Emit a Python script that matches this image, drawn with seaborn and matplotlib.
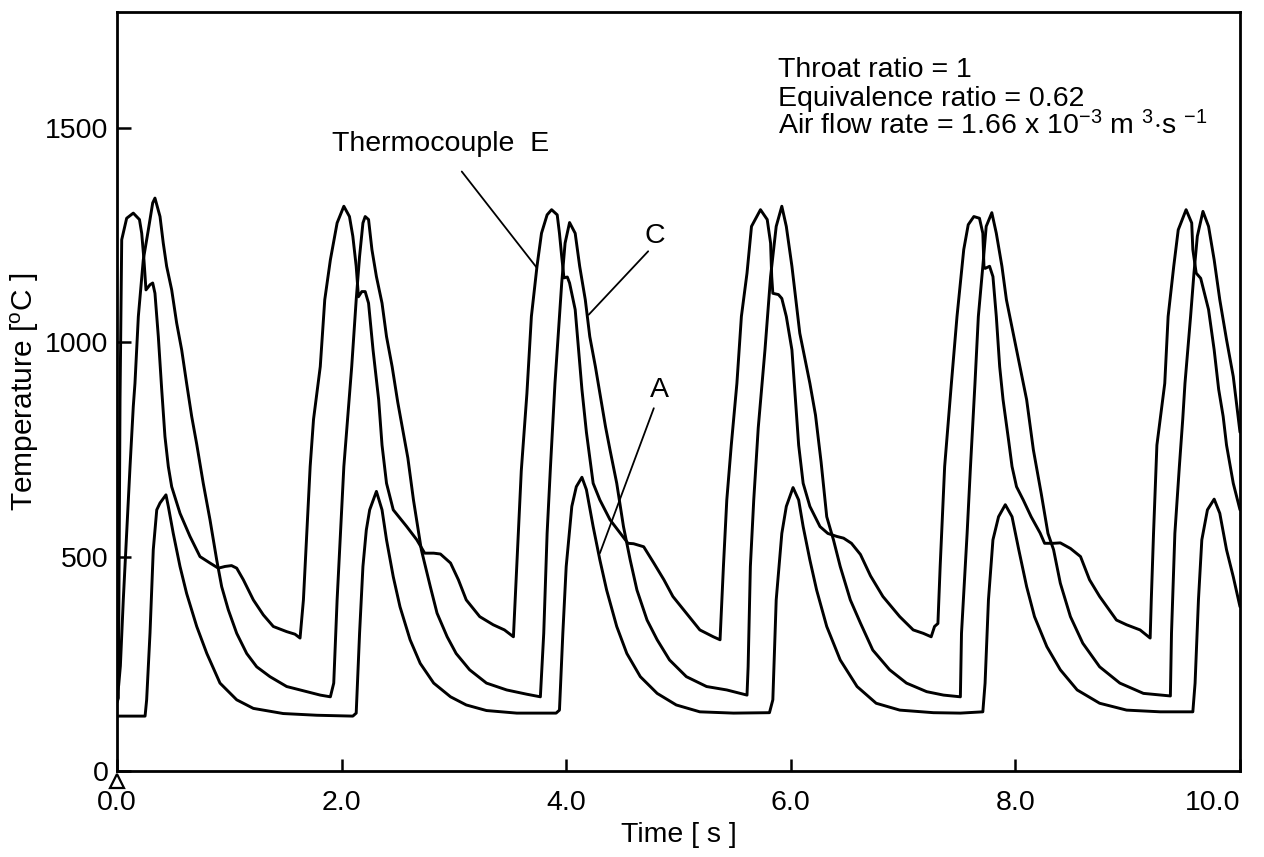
import numpy as np
import pandas as pd
import matplotlib
matplotlib.use("Agg")
import matplotlib.pyplot as plt
import seaborn as sns

# ---------------- data ----------------
e_time = [0.00, 0.012, 0.027, 0.042, 0.086, 0.145, 0.20, 0.22, 0.24, 0.258, 0.294, 0.318, 0.338, 0.368, 0.398, 0.427, 0.457, 0.487, 0.561, 0.65, 0.739, 0.828, 0.902, 0.962, 1.02, 1.066, 1.125, 1.214, 1.303, 1.392, 1.511, 1.585, 1.63,
          1.66, 1.69, 1.72, 1.75, 1.81, 1.85, 1.90, 1.96, 2.02, 2.07, 2.10, 2.13, 2.15, 2.18, 2.21, 2.24, 2.28, 2.33, 2.36, 2.40, 2.46, 2.58, 2.67, 2.74, 2.82, 2.88, 2.97, 3.04, 3.11, 3.23, 3.35, 3.45, 3.53,
          3.56, 3.60, 3.65, 3.69, 3.74, 3.78, 3.83, 3.87, 3.92, 3.94, 3.96, 3.98, 4.01, 4.03, 4.08, 4.11, 4.14, 4.18, 4.24, 4.30, 4.39, 4.48, 4.55, 4.60, 4.69, 4.78, 4.87, 4.95, 5.07, 5.19, 5.31, 5.37,
          5.40, 5.43, 5.47, 5.52, 5.56, 5.61, 5.65, 5.73, 5.79, 5.82, 5.83, 5.84, 5.89, 5.92, 5.96, 6.01, 6.04, 6.07, 6.11, 6.17, 6.26, 6.33, 6.41, 6.47, 6.54, 6.62, 6.71, 6.82, 6.97, 7.09, 7.18, 7.25, 7.28, 7.31,
          7.33, 7.37, 7.43, 7.48, 7.51, 7.54, 7.58, 7.63, 7.68, 7.71, 7.72, 7.73, 7.77, 7.80, 7.83, 7.86, 7.89, 7.94, 7.97, 8.01, 8.07, 8.14, 8.22, 8.26, 8.34, 8.40, 8.49, 8.58, 8.66, 8.75, 8.90, 8.99, 9.11, 9.20,
          9.21, 9.23, 9.26, 9.33, 9.36, 9.41, 9.45, 9.52, 9.57, 9.58, 9.61, 9.65, 9.72, 9.77, 9.81, 9.85, 9.88, 9.94, 10.0]
e_temp = [160, 170, 866, 1239, 1289, 1301, 1286, 1254, 1192, 1122, 1134, 1138, 1114, 1013, 890, 780, 710, 663, 601, 547, 500, 485, 473, 477, 479, 473, 446, 399, 364, 337, 325, 319, 310,
          399, 554, 710, 820, 943, 1099, 1192, 1278, 1317, 1293, 1247, 1177, 1106, 1118, 1118, 1091, 982, 866, 760, 671, 609, 570, 539, 508, 508, 506, 485, 446, 399, 360, 341, 329, 313,
          477, 700, 880, 1060, 1177, 1254, 1297, 1309, 1297, 1254, 1200, 1150, 1152, 1138, 1076, 982, 890, 790, 671, 632, 586, 555, 531, 530, 523, 485, 446, 407, 368, 329, 313, 306,
          477, 632, 760, 904, 1060, 1161, 1270, 1309, 1286, 1231, 1153, 1114, 1111, 1102, 1060, 982, 870, 760, 671, 617, 570, 554, 547, 543, 531, 505, 455, 407, 360, 329, 321, 313, 337, 344,
          477, 710, 904, 1060, 1138, 1216, 1274, 1293, 1289, 1254, 1177, 1172, 1177, 1153, 1060, 943, 866, 770, 710, 663, 632, 593, 555, 531, 531, 532, 519, 500, 446, 407, 352, 341, 329, 310,
          399, 554, 760, 904, 1060, 1177, 1262, 1309, 1278, 1216, 1161, 1149, 1076, 982, 890, 827, 760, 671, 609]

c_time = [0.00, 0.015, 0.03, 0.056, 0.086, 0.116, 0.145, 0.16, 0.19, 0.234, 0.279, 0.318, 0.338, 0.383, 0.412, 0.442, 0.487, 0.531, 0.576, 0.62, 0.665, 0.71, 0.768, 0.828, 0.888, 0.932, 0.991, 1.066, 1.155, 1.244, 1.362, 1.511, 1.69, 1.81, 1.90,
          1.93, 1.96, 1.99, 2.02, 2.05, 2.09, 2.13, 2.16, 2.19, 2.21, 2.24, 2.27, 2.31, 2.36, 2.40, 2.45, 2.50, 2.55, 2.59, 2.64, 2.71, 2.79, 2.85, 2.94, 3.02, 3.14, 3.29, 3.47, 3.65, 3.77,
          3.80, 3.83, 3.86, 3.90, 3.93, 3.96, 3.99, 4.03, 4.08, 4.12, 4.17, 4.21, 4.26, 4.31, 4.35, 4.39, 4.45, 4.51, 4.57, 4.63, 4.72, 4.81, 4.92, 5.07, 5.25, 5.43, 5.61,
          5.62, 5.64, 5.67, 5.71, 5.77, 5.82, 5.87, 5.92, 5.96, 6.01, 6.08, 6.17, 6.22, 6.27, 6.32, 6.38, 6.44, 6.53, 6.62, 6.73, 6.88, 7.03, 7.21, 7.36, 7.51,
          7.52, 7.57, 7.60, 7.64, 7.67, 7.71, 7.74, 7.79, 7.83, 7.88, 7.92, 7.98, 8.04, 8.10, 8.16, 8.23, 8.29, 8.34, 8.40, 8.49, 8.60, 8.75, 8.93, 9.14, 9.38,
          9.39, 9.42, 9.46, 9.49, 9.51, 9.56, 9.59, 9.62, 9.67, 9.72, 9.77, 9.82, 9.88, 9.94, 9.98, 10.0]
c_temp = [180, 200, 245, 399, 554, 710, 850, 904, 1060, 1192, 1262, 1325, 1336, 1293, 1231, 1177, 1122, 1045, 982, 904, 827, 762, 671, 586, 492, 430, 376, 321, 274, 243, 220, 197, 185, 177, 173,
          205, 399, 554, 710, 810, 943, 1099, 1200, 1278, 1293, 1286, 1216, 1153, 1091, 1013, 943, 860, 788, 730, 632, 516, 430, 368, 313, 274, 236, 205, 189, 179, 173,
          321, 554, 710, 904, 1021, 1138, 1231, 1279, 1254, 1177, 1099, 1013, 943, 866, 803, 749, 671, 570, 492, 422, 352, 306, 259, 220, 197, 189, 177,
          243, 477, 632, 800, 982, 1153, 1270, 1317, 1270, 1177, 1021, 904, 830, 720, 593, 539, 477, 399, 345, 282, 236, 205, 185, 177, 173,
          321, 554, 710, 904, 1060, 1177, 1270, 1302, 1254, 1177, 1099, 1021, 943, 866, 749, 647, 554, 516, 438, 360, 298, 243, 205, 181, 175,
          321, 554, 710, 820, 904, 1060, 1161, 1247, 1305, 1270, 1192, 1099, 1006, 920, 834, 790]

a_time = [0.00, 0.25, 0.264, 0.294, 0.323, 0.354, 0.383, 0.436, 0.457, 0.501, 0.561, 0.62, 0.71, 0.80, 0.917, 1.066, 1.214, 1.48, 1.78, 2.10,
          2.13, 2.16, 2.19, 2.22, 2.25, 2.31, 2.36, 2.40, 2.46, 2.52, 2.61, 2.70, 2.82, 2.97, 3.11, 3.29, 3.56, 3.91,
          3.94, 3.97, 4.00, 4.05, 4.09, 4.14, 4.18, 4.24, 4.30, 4.36, 4.45, 4.54, 4.66, 4.81, 4.98, 5.19, 5.49, 5.81,
          5.84, 5.87, 5.92, 5.96, 6.02, 6.07, 6.11, 6.17, 6.23, 6.32, 6.44, 6.59, 6.76, 6.97, 7.27, 7.51, 7.71,
          7.73, 7.76, 7.80, 7.85, 7.91, 7.97, 8.03, 8.10, 8.17, 8.28, 8.40, 8.55, 8.75, 8.99, 9.29, 9.58,
          9.60, 9.63, 9.66, 9.71, 9.77, 9.82, 9.88, 9.94, 10.0]
a_temp = [128, 128, 166, 322, 516, 609, 625, 644, 617, 554, 477, 414, 337, 274, 205, 166, 146, 134, 130, 128,
          135, 321, 477, 562, 609, 652, 609, 539, 453, 383, 306, 251, 205, 173, 154, 141, 135, 135,
          142, 321, 477, 617, 663, 685, 656, 570, 492, 422, 337, 274, 220, 181, 154, 138, 135, 136,
          166, 399, 554, 617, 661, 632, 570, 492, 422, 337, 259, 197, 158, 142, 136, 135, 138,
          205, 399, 539, 593, 621, 593, 516, 430, 360, 290, 236, 189, 158, 142, 138, 138,
          205, 399, 539, 609, 634, 601, 516, 453, 383]

x_ticks = [0, 2, 4, 6, 8, 10]
x_ticklabels = ["0.0", "2.0", "4.0", "6.0", "8.0", "10.0"]
y_ticks = [0, 500, 1000, 1500]
y_ticklabels = ["0", "500", "1000", "1500"]

# leader lines: (t0, T0) -> (t1, T1)
leader_e = ([3.07, 3.74], [1398, 1173])
leader_c = ([4.73, 4.20], [1212, 1064])
leader_a = ([4.78, 4.30], [846, 508])
trigger_t = [0.0]
trigger_T = [-23]

# ---------------- style ----------------
sns.set_style("ticks")
plt.rcParams["font.family"] = ["Liberation Sans", "DejaVu Sans"]
plt.rcParams["mathtext.fontset"] = "custom"
plt.rcParams["mathtext.rm"] = "Liberation Sans"
plt.rcParams["mathtext.it"] = "Liberation Sans:italic"
plt.rcParams["mathtext.bf"] = "Liberation Sans:bold"
plt.rcParams["text.color"] = "black"
plt.rcParams["axes.labelcolor"] = "black"
plt.rcParams["xtick.color"] = "black"
plt.rcParams["ytick.color"] = "black"
FS = 20.5

fig = plt.figure(figsize=(12.64, 8.57), dpi=100)
ax = fig.add_axes([117 / 1264, 1 - 771 / 857, (1240 - 117) / 1264, (771 - 12) / 857])

for t, T in [(e_time, e_temp), (c_time, c_temp), (a_time, a_temp)]:
    assert len(t) == len(T)
    df = pd.DataFrame({"t": t, "T": T})
    sns.lineplot(data=df, x="t", y="T", ax=ax, color="black", linewidth=2.1,
                 estimator=None, sort=False, legend=False,
                 solid_joinstyle="round", solid_capstyle="round")

for lx, ly in [leader_e, leader_c, leader_a]:
    ax.plot(lx, ly, color="black", linewidth=1.3)

ax.plot(trigger_t, trigger_T, marker="^", markersize=10, markerfacecolor="white",
        markeredgecolor="black", markeredgewidth=1.6, linestyle="none", clip_on=False, zorder=5)

ax.set_xlim(0, 10)
ax.set_ylim(0, 1770)
ax.set_xticks(x_ticks)
ax.set_xticklabels(x_ticklabels)
ax.set_yticks(y_ticks)
ax.set_yticklabels(y_ticklabels)
ax.get_xticklabels()[-1].set_horizontalalignment("right")
ax.tick_params(axis="both", direction="in", width=1.8, labelsize=FS, colors="black")
ax.tick_params(axis="x", length=9, pad=14)
ax.tick_params(axis="y", length=10, pad=6)
for s in ax.spines.values():
    s.set_linewidth(2.0)
    s.set_color("black")

ax.set_xlabel("Time [ s ]", fontsize=FS, labelpad=4)
ax.set_ylabel(r"Temperature [$^{\mathrm{o}}$C ]", fontsize=FS + 1, labelpad=3)

ax.text(1.912, 1445, "Thermocouple  E", fontsize=FS, ha="left", va="baseline")
ax.text(4.70, 1231, "C", fontsize=FS, ha="left", va="baseline")
ax.text(4.746, 873, "A", fontsize=FS, ha="left", va="baseline")

ax.text(5.886, 1618, "Throat ratio = 1", fontsize=FS, ha="left", va="baseline")
ax.text(5.886, 1551, "Equivalence ratio = 0.62", fontsize=FS, ha="left", va="baseline")
ax.text(5.886, 1485, r"Air flow rate = 1.66 x 10$^{-3}$ m $^{3}$$\cdot$s $^{-1}$",
        fontsize=FS, ha="left", va="baseline")

fig.savefig("out.png", dpi=100)
